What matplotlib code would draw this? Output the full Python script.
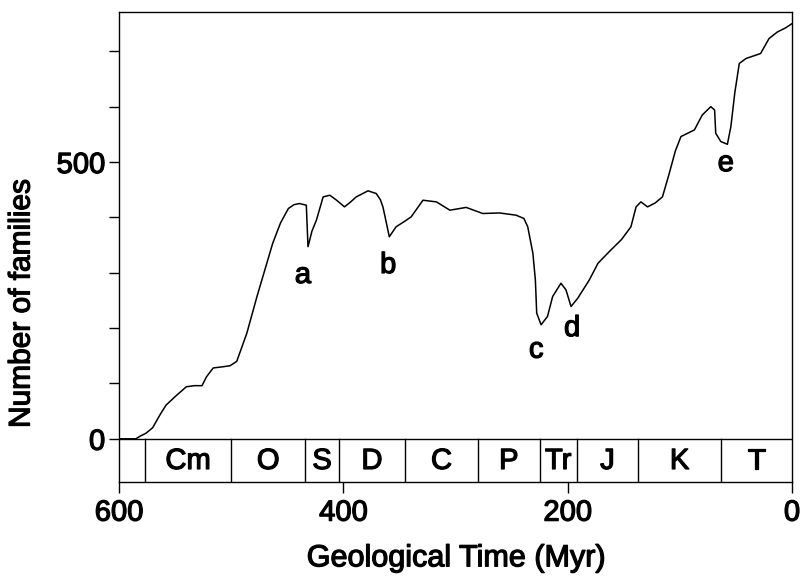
import numpy as np
import matplotlib
matplotlib.use('Agg')
import matplotlib.pyplot as plt
import matplotlib.patheffects as pe

plt.rcParams['font.family'] = ['Liberation Sans', 'DejaVu Sans']

# Diversity curve (time in Myr before present, number of families)
time_myr = [600, 585, 581, 576, 570, 563, 558, 549, 540, 533, 526, 522, 516, 508, 501,
            495, 486, 477, 470, 463, 456, 449, 444, 439, 433, 431.5, 428, 424, 418,
            412, 406, 399, 394, 388.5, 378, 370.6, 367, 364.7, 359, 353, 346, 339.5,
            329, 317, 305, 290.5, 275.7, 260.8, 246, 239, 235.6, 231, 228.8, 227.6,
            223.7, 218, 213.4, 206, 201.5, 197, 191, 180.7, 173, 163, 152, 143.6,
            139, 134.7, 128.8, 122, 115.5, 109.5, 104, 99, 87, 80, 72.4, 69, 68, 63.5,
            57.6, 54.5, 51, 47, 41, 28, 20.5, 13, 6, 0]
families = [0, 0, 5, 10, 20, 45, 61, 78, 94, 96, 96, 112, 128, 130, 132,
            140, 191, 257, 305, 353, 390, 416, 423, 425, 422, 347, 375, 395, 437,
            440, 431, 419, 427, 437, 448, 443, 432, 419, 365, 383, 392, 401,
            431, 428, 413, 418, 407, 408, 404, 398, 383, 335, 287, 227,
            206, 221, 257, 281, 269, 239, 254, 287, 317, 338, 360, 383,
            419, 428, 419, 426, 437, 479, 520, 546, 558, 585, 600, 594, 552, 537,
            532, 564, 625, 678, 687, 696, 723, 735, 742, 750]

# Geological periods (boundaries in Myr)
period_names = ['Cm', 'O', 'S', 'D', 'C', 'P', 'Tr', 'J', 'K', 'T']
period_start = [577, 500, 434, 404, 345, 280, 225, 192, 137, 63.5]
period_end = [500, 434, 404, 345, 280, 225, 192, 137, 63.5, 0]

# Extinction events
event_labels = ['a', 'b', 'c', 'd', 'e']
event_time = [436, 360, 228, 196, 59]
event_families = [296, 314, 161, 200, 498]

# heavier "printed" look for the text
heavy = [pe.withStroke(linewidth=0.9, foreground='black')]

fig = plt.figure(figsize=(8.05, 5.76), dpi=100)
ax = fig.add_axes([119/805, 1 - 482/576, (792-119)/805, (482-12)/576])

ax.plot(time_myr, families, color='black', linewidth=1.1,
        solid_joinstyle='round', solid_capstyle='round')

# period band below zero
band_bottom = -78
ax.axhline(0, color='black', linewidth=1.0)
for start, end, name in zip(period_start, period_end, period_names):
    ax.plot([start, start], [0, band_bottom], color='black', linewidth=1.0)
    ax.text((start + end) / 2, -40, name, ha='center', va='center', fontsize=21,
            path_effects=heavy)

for lab, t, n in zip(event_labels, event_time, event_families):
    ax.text(t, n, lab, ha='center', va='center', fontsize=21, path_effects=heavy)

ax.set_xlim(600, 0)
ax.set_ylim(band_bottom, 771)

ax.set_xticks([600, 400, 200, 0])
ax.set_yticks([0, 500])
ax.set_yticks([100, 200, 300, 400, 600, 700], minor=True)
ax.tick_params(axis='both', direction='out', labelsize=21, width=1.0)
ax.tick_params(axis='x', length=8, pad=4)
ax.tick_params(axis='y', length=7, pad=3)
ax.tick_params(axis='y', which='minor', length=7, width=1.0)
ax.tick_params(top=False, right=False)
for lbl in ax.get_xticklabels() + ax.get_yticklabels():
    lbl.set_path_effects(heavy)

for sp in ax.spines.values():
    sp.set_linewidth(1.0)

ax.set_xlabel('Geological Time (Myr)', fontsize=22, labelpad=12, path_effects=heavy)
ax.set_ylabel('Number of families', fontsize=21.5, path_effects=heavy)
ax.yaxis.set_label_coords(-0.124, 0.38)

fig.savefig('out.png', dpi=100)
